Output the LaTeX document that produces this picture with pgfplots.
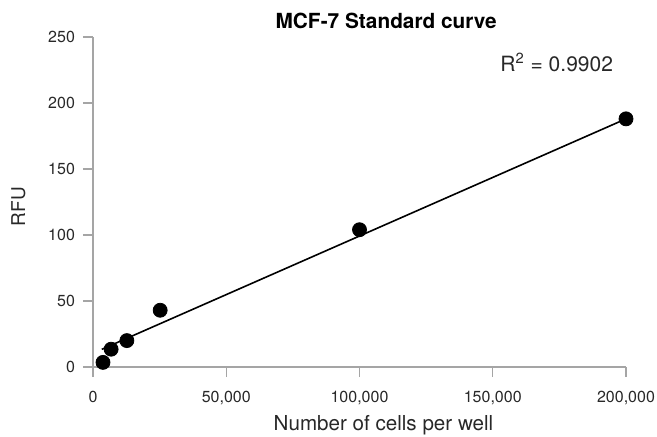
\documentclass[border=0pt]{standalone}
\usepackage{fontspec}
\setmainfont{TeX Gyre Heros}
\usepackage{pgfplots}
\pgfplotsset{compat=1.18}
\definecolor{axisgray}{RGB}{165,165,165}
\definecolor{textgray}{RGB}{40,40,40}

\begin{document}
\begin{tikzpicture}
% page size = 657 x 436 px at 0.5pt per px, origin at data (0,0)
\useasboundingbox (-46.5pt,-34.5pt) rectangle (282pt,183.5pt);
\begin{axis}[
    at={(0,0)}, anchor=origin,
    scale only axis,
    width=266.5pt, height=165pt,
    xmin=0, xmax=200000,
    ymin=0, ymax=250,
    axis x line*=bottom,
    axis y line*=left,
    axis line style={axisgray, line width=0.6pt, -},
    xtick={0,50000,100000,150000,200000},
    xticklabels={0,{50,000},{100,000},{150,000},{200,000}},
    ytick={0,50,100,150,200,250},
    tick align=outside,
    major tick length=5pt,
    tick style={axisgray, line width=0.6pt},
    scaled x ticks=false,
    /pgf/number format/assume math mode=true,
    ticklabel style={font=\fontsize{8}{9}\selectfont, text=textgray},
    xticklabel style={yshift=-3.5pt},
    yticklabel style={xshift=-0.5pt},
    xlabel={Number of cells per well},
    xlabel style={font=\fontsize{10.3}{12}\selectfont, text=textgray,
        at={(axis description cs:0.545,-0.191)}, anchor=base},
    ylabel={RFU},
    ylabel style={font=\fontsize{9.5}{11}\selectfont, text=textgray,
        at={(axis description cs:-0.14,0.486)}, anchor=center},
    title={MCF-7 Standard curve},
    title style={font=\fontsize{10.4}{12}\selectfont\bfseries,
        at={(axis description cs:0.55,1.018)}, anchor=base, yshift=-4.5pt},
    clip=false,
]
% linear fit
\addplot[black, line width=0.8pt] coordinates {(3300,13.4) (200000,188.0)};
% measured points
\addplot[only marks, mark=*, mark size=3.5pt, black] coordinates {
    (3750,3.5) (6800,13.5) (12700,20) (25200,43) (100000,104) (200000,188)
};
\node[font=\fontsize{10.5}{12}\selectfont, text=textgray, anchor=center]
    at (axis cs:174000,231) {R\textsuperscript{2} = 0.9902};
\end{axis}
\end{tikzpicture}
\end{document}
